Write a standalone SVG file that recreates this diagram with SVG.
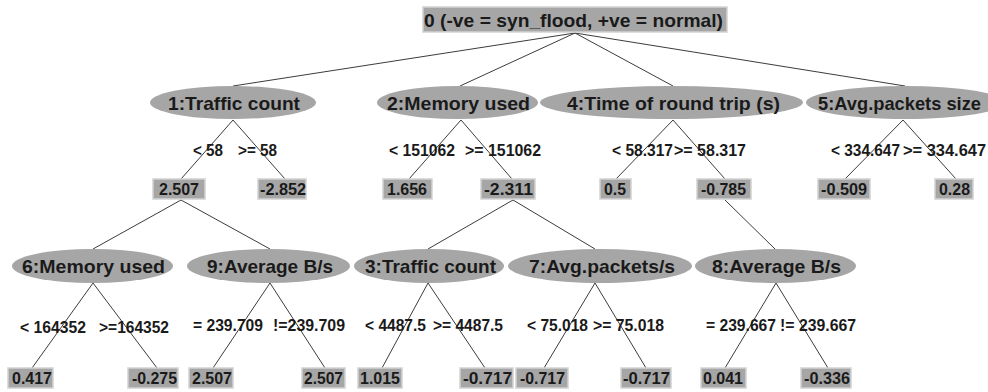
<svg xmlns="http://www.w3.org/2000/svg" width="988" height="392" viewBox="0 0 988 392">
<style>
text{font-family:"Liberation Sans",Arial,sans-serif;font-weight:bold;fill:#1a1a1a}
.big{font-size:19px}
.sm{font-size:16px}
.box{fill:#a6a6a6;stroke:#d2d2d2;stroke-width:1.5}
.ell{fill:#a6a6a6}
.cn line{stroke:#3c3c3c;stroke-width:1}
</style>
<rect width="988" height="392" fill="#fff"/>
<g class="cn" id="connectors">
<line x1="575" y1="33" x2="233" y2="86"/>
<line x1="575" y1="33" x2="460" y2="86"/>
<line x1="575" y1="33" x2="673" y2="86"/>
<line x1="575" y1="33" x2="905" y2="86"/>
<line x1="233" y1="120" x2="181" y2="179"/>
<line x1="233" y1="120" x2="285" y2="179"/>
<line x1="461" y1="120" x2="409" y2="179"/>
<line x1="461" y1="120" x2="512" y2="179"/>
<line x1="673" y1="120" x2="616" y2="179"/>
<line x1="673" y1="120" x2="725" y2="179"/>
<line x1="903" y1="120" x2="845" y2="179"/>
<line x1="903" y1="120" x2="956" y2="179"/>
<line x1="181" y1="200" x2="93" y2="249"/>
<line x1="181" y1="200" x2="270" y2="249"/>
<line x1="513" y1="200" x2="428" y2="249"/>
<line x1="513" y1="200" x2="595" y2="249"/>
<line x1="725" y1="200" x2="775" y2="249"/>
<line x1="93" y1="283" x2="32" y2="368"/>
<line x1="93" y1="283" x2="157" y2="368"/>
<line x1="270" y1="283" x2="213" y2="368"/>
<line x1="270" y1="283" x2="325" y2="368"/>
<line x1="428" y1="283" x2="382" y2="368"/>
<line x1="428" y1="283" x2="485" y2="368"/>
<line x1="595" y1="283" x2="544" y2="368"/>
<line x1="595" y1="283" x2="646" y2="368"/>
<line x1="776" y1="283" x2="725" y2="368"/>
<line x1="776" y1="283" x2="828" y2="368"/>
</g>
<g id="n0"><rect class="box" x="423" y="7" width="304" height="25"/><text class="big" x="424" y="27" textLength="299" lengthAdjust="spacingAndGlyphs">0 (-ve = syn_flood, +ve = normal)</text></g>
<g id="n1"><ellipse class="ell" cx="233" cy="102.5" rx="83" ry="16.5"/><text class="big" x="168" y="110" textLength="132" lengthAdjust="spacingAndGlyphs">1:Traffic count</text></g>
<g id="n2"><ellipse class="ell" cx="457.5" cy="102.5" rx="80.5" ry="16.5"/><text class="big" x="387" y="110" textLength="143" lengthAdjust="spacingAndGlyphs">2:Memory used</text></g>
<g id="n4"><ellipse class="ell" cx="671.5" cy="102.5" rx="131.5" ry="16.5"/><text class="big" x="567" y="110" textLength="213" lengthAdjust="spacingAndGlyphs">4:Time of round trip (s)</text></g>
<g id="n5"><ellipse class="ell" cx="905" cy="102.5" rx="99" ry="16.5"/><text class="big" x="818" y="110" textLength="163" lengthAdjust="spacingAndGlyphs">5:Avg.packets size</text></g>
<g id="e1"><text class="sm" x="193" y="156" textLength="30" lengthAdjust="spacingAndGlyphs">&lt; 58</text><text class="sm" x="238" y="156" textLength="39" lengthAdjust="spacingAndGlyphs">&gt;= 58</text></g>
<g id="e2"><text class="sm" x="389" y="156" textLength="66" lengthAdjust="spacingAndGlyphs">&lt; 151062</text><text class="sm" x="465" y="156" textLength="76" lengthAdjust="spacingAndGlyphs">&gt;= 151062</text></g>
<g id="e4"><text class="sm" x="612" y="156" textLength="61" lengthAdjust="spacingAndGlyphs">&lt; 58.317</text><text class="sm" x="674" y="156" textLength="72" lengthAdjust="spacingAndGlyphs">&gt;= 58.317</text></g>
<g id="e5"><text class="sm" x="831" y="156" textLength="69" lengthAdjust="spacingAndGlyphs">&lt; 334.647</text><text class="sm" x="903" y="156" textLength="83" lengthAdjust="spacingAndGlyphs">&gt;= 334.647</text></g>
<g id="l1a"><rect class="box" x="153" y="179" width="52" height="20"/><text class="sm" x="159" y="195" textLength="40" lengthAdjust="spacingAndGlyphs">2.507</text></g>
<g id="l1b"><rect class="box" x="258" y="179" width="48" height="20"/><text class="sm" x="260" y="195" textLength="46" lengthAdjust="spacingAndGlyphs">-2.852</text></g>
<g id="l2a"><rect class="box" x="383" y="179" width="49" height="20"/><text class="sm" x="387" y="195" textLength="40" lengthAdjust="spacingAndGlyphs">1.656</text></g>
<g id="l2b"><rect class="box" x="481" y="179" width="54" height="20"/><text class="sm" x="484" y="195" textLength="49" lengthAdjust="spacingAndGlyphs">-2.311</text></g>
<g id="l4a"><rect class="box" x="600" y="179" width="31" height="20"/><text class="sm" x="604" y="195" textLength="22" lengthAdjust="spacingAndGlyphs">0.5</text></g>
<g id="l4b"><rect class="box" x="697" y="179" width="54" height="20"/><text class="sm" x="701" y="195" textLength="45" lengthAdjust="spacingAndGlyphs">-0.785</text></g>
<g id="l5a"><rect class="box" x="818" y="179" width="52" height="20"/><text class="sm" x="821" y="195" textLength="46" lengthAdjust="spacingAndGlyphs">-0.509</text></g>
<g id="l5b"><rect class="box" x="935" y="179" width="38" height="20"/><text class="sm" x="939" y="195" textLength="31" lengthAdjust="spacingAndGlyphs">0.28</text></g>
<g id="n6"><ellipse class="ell" cx="92.5" cy="266" rx="80.5" ry="17"/><text class="big" x="22" y="273" textLength="143" lengthAdjust="spacingAndGlyphs">6:Memory used</text></g>
<g id="n9"><ellipse class="ell" cx="268.5" cy="266" rx="81.5" ry="17"/><text class="big" x="207" y="273" textLength="126" lengthAdjust="spacingAndGlyphs">9:Average B/s</text></g>
<g id="n3"><ellipse class="ell" cx="429" cy="266" rx="75" ry="17"/><text class="big" x="365" y="273" textLength="131" lengthAdjust="spacingAndGlyphs">3:Traffic count</text></g>
<g id="n7"><ellipse class="ell" cx="600" cy="266" rx="92" ry="17"/><text class="big" x="529" y="273" textLength="146" lengthAdjust="spacingAndGlyphs">7:Avg.packets/s</text></g>
<g id="n8"><ellipse class="ell" cx="775.5" cy="266" rx="80.5" ry="17"/><text class="big" x="712" y="273" textLength="129" lengthAdjust="spacingAndGlyphs">8:Average B/s</text></g>
<g id="e6"><text class="sm" x="20" y="333" textLength="66" lengthAdjust="spacingAndGlyphs">&lt; 164352</text><text class="sm" x="99" y="333" textLength="70" lengthAdjust="spacingAndGlyphs">&gt;=164352</text></g>
<g id="e9"><text class="sm" x="193" y="331" textLength="70" lengthAdjust="spacingAndGlyphs">= 239.709</text><text class="sm" x="273" y="331" textLength="72" lengthAdjust="spacingAndGlyphs">!=239.709</text></g>
<g id="e3"><text class="sm" x="365" y="331" textLength="61" lengthAdjust="spacingAndGlyphs">&lt; 4487.5</text><text class="sm" x="433" y="331" textLength="70" lengthAdjust="spacingAndGlyphs">&gt;= 4487.5</text></g>
<g id="e7"><text class="sm" x="527" y="331" textLength="61" lengthAdjust="spacingAndGlyphs">&lt; 75.018</text><text class="sm" x="593" y="331" textLength="71" lengthAdjust="spacingAndGlyphs">&gt;= 75.018</text></g>
<g id="e8"><text class="sm" x="706" y="331" textLength="70" lengthAdjust="spacingAndGlyphs">= 239.667</text><text class="sm" x="780" y="331" textLength="76" lengthAdjust="spacingAndGlyphs">!= 239.667</text></g>
<g id="l6a"><rect class="box" x="8" y="368" width="45" height="20"/><text class="sm" x="12" y="384" textLength="40" lengthAdjust="spacingAndGlyphs">0.417</text></g>
<g id="l6b"><rect class="box" x="128" y="368" width="50" height="20"/><text class="sm" x="132" y="384" textLength="45" lengthAdjust="spacingAndGlyphs">-0.275</text></g>
<g id="l9a"><rect class="box" x="189" y="368" width="44" height="20"/><text class="sm" x="192" y="384" textLength="40" lengthAdjust="spacingAndGlyphs">2.507</text></g>
<g id="l9b"><rect class="box" x="302" y="368" width="43" height="20"/><text class="sm" x="304" y="384" textLength="39" lengthAdjust="spacingAndGlyphs">2.507</text></g>
<g id="l3a"><rect class="box" x="358" y="368" width="44" height="20"/><text class="sm" x="360" y="384" textLength="40" lengthAdjust="spacingAndGlyphs">1.015</text></g>
<g id="l3b"><rect class="box" x="460" y="368" width="53" height="20"/><text class="sm" x="463" y="384" textLength="49" lengthAdjust="spacingAndGlyphs">-0.717</text></g>
<g id="l7a"><rect class="box" x="516" y="368" width="52" height="20"/><text class="sm" x="520" y="384" textLength="45" lengthAdjust="spacingAndGlyphs">-0.717</text></g>
<g id="l7b"><rect class="box" x="621" y="368" width="50" height="20"/><text class="sm" x="623" y="384" textLength="47" lengthAdjust="spacingAndGlyphs">-0.717</text></g>
<g id="l8a"><rect class="box" x="701" y="368" width="45" height="20"/><text class="sm" x="703" y="384" textLength="40" lengthAdjust="spacingAndGlyphs">0.041</text></g>
<g id="l8b"><rect class="box" x="801" y="368" width="50" height="20"/><text class="sm" x="804" y="384" textLength="46" lengthAdjust="spacingAndGlyphs">-0.336</text></g>
</svg>
